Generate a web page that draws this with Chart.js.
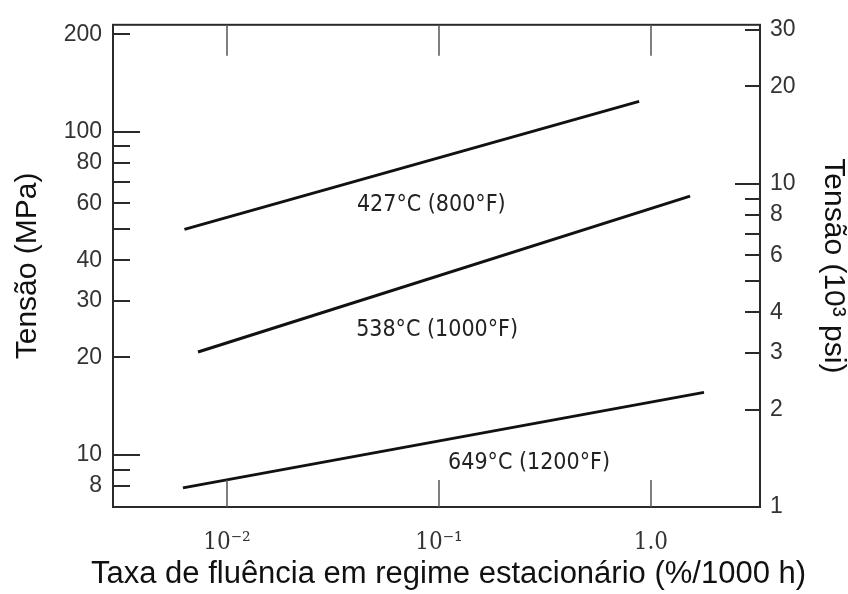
<!DOCTYPE html>
<html lang="pt">
  <head>
    <meta charset="UTF-8" />
    <title>Tensão x taxa de fluência</title>
    <script src="https://cdn.jsdelivr.net/npm/chart.js"></script>
    <style>
      body { margin: 0; background: #fff; }
    </style>
  </head>
  <body>
    <canvas id="creepChart" width="848" height="594"></canvas>

    <script>
      // taxa de fluência (%/1000 h) e tensão (MPa) nas extremidades de cada reta
      const rate427 = [0.0063, 0.88];
      const stress427 = [49.8, 124];
      const rate538 = [0.0073, 1.53];
      const stress538 = [20.8, 63.1];
      const rate649 = [0.0062, 1.78];
      const stress649 = [7.9, 15.6];

      const curveNames = ["427°C (800°F)", "538°C (1000°F)", "649°C (1200°F)"];
      // onde cada rótulo fica, em unidades dos eixos (taxa, MPa)
      const nameRate = [0.092, 0.098, 0.266];
      const nameStress = [59.3, 24.4, 9.4];

      // marcas dos eixos
      const xTicks = [0.01, 0.1, 1];
      const xTickLabels = ["10⁻²", "10⁻¹", "1.0"];
      const mpaTicks = [8, 9, 10, 20, 30, 40, 50, 60, 70, 80, 90, 100, 200];
      const mpaLabels = [8, 10, 20, 30, 40, 60, 80, 100, 200];
      const ksiTicks = [1, 2, 3, 4, 5, 6, 7, 8, 9, 10, 20, 30];
      const ksiLabels = [1, 2, 3, 4, 6, 8, 10, 20, 30];

      const xTitle = "Taxa de fluência em regime estacionário (%/1000 h)";

      const MPA_PER_KSI = 6.895;
      const mpaMin = 6.895;
      const mpaMax = 213.9;

      function toPoints(xs, ys) {
        return xs.map((x, i) => ({ x: x, y: ys[i] }));
      }

      // moldura e marcas para dentro do gráfico
      const frameAndTicks = {
        id: "frameAndTicks",
        afterDatasetsDraw(chart) {
          const { ctx, chartArea: a, scales } = chart;
          ctx.save();
          function seg(x1, y1, x2, y2) {
            ctx.beginPath();
            ctx.moveTo(x1, y1);
            ctx.lineTo(x2, y2);
            ctx.stroke();
          }
          ctx.strokeStyle = "#2a2a2a";
          ctx.lineWidth = 2;
          ctx.strokeRect(a.left, a.top, a.right - a.left, a.bottom - a.top);

          scales.y.ticks.forEach((t) => {
            const py = Math.round(scales.y.getPixelForValue(t.value));
            const len = t.value === 10 || t.value === 100 ? 27 : 17;
            seg(a.left, py, a.left + len, py);
          });
          scales.y2.ticks.forEach((t) => {
            const py = Math.round(scales.y2.getPixelForValue(t.value));
            const len = t.value === 10 ? 25 : 15;
            seg(a.right, py, a.right - len, py);
          });

          ctx.strokeStyle = "#555";
          ctx.lineWidth = 1.5;
          scales.x.ticks.forEach((t) => {
            const px = Math.round(scales.x.getPixelForValue(t.value));
            seg(px, a.bottom, px, a.bottom - 27);
            seg(px, a.top, px, a.top + 31);
          });

          // rótulos das curvas
          ctx.fillStyle = "#222";
          ctx.font = '23px "DejaVu Sans Condensed", "Liberation Sans Narrow", sans-serif';
          ctx.textAlign = "center";
          ctx.textBaseline = "middle";
          curveNames.forEach((name, i) => {
            ctx.fillText(
              name,
              scales.x.getPixelForValue(nameRate[i]),
              scales.y.getPixelForValue(nameStress[i])
            );
          });

          // título do eixo x (sem compressão à largura da área)
          ctx.fillStyle = "#111";
          ctx.font = '31px "Liberation Sans", Arial, sans-serif';
          ctx.textBaseline = "alphabetic";
          ctx.fillText(xTitle, (a.left + a.right) / 2 + 12, chart.height - 11);
          ctx.restore();
        },
      };

      const lineStyle = {
        borderColor: "#111",
        borderWidth: 3,
        pointRadius: 0,
        showLine: true,
        fill: false,
      };

      const ctx = document.getElementById("creepChart").getContext("2d");
      const chart = new Chart(ctx, {
        type: "scatter",
        data: {
          datasets: [
            { label: curveNames[0], data: toPoints(rate427, stress427), ...lineStyle },
            { label: curveNames[1], data: toPoints(rate538, stress538), ...lineStyle },
            { label: curveNames[2], data: toPoints(rate649, stress649), ...lineStyle },
          ],
        },
        options: {
          responsive: false,
          animation: false,
          layout: { padding: { top: 14, left: 0, right: 0, bottom: 0 } },
          plugins: {
            legend: { display: false },
            tooltip: { enabled: false },
          },
          scales: {
            x: {
              type: "logarithmic",
              position: "bottom",
              min: 0.0029,
              max: 3.27,
              grid: { display: false, drawTicks: false },
              border: { display: false },
              afterBuildTicks: (s) => {
                s.ticks = xTicks.map((v) => ({ value: v }));
              },
              afterFit: (s) => {
                s.height = 87;
              },
              ticks: {
                autoSkip: false,
                maxRotation: 0,
                padding: 21,
                color: "#333",
                font: { family: '"DejaVu Serif Condensed", "DejaVu Serif", serif', size: 24 },
                callback: (v) => {
                  const i = xTicks.indexOf(v);
                  return i >= 0 ? xTickLabels[i] : "";
                },
              },
              title: { display: false },
            },
            y: {
              type: "logarithmic",
              position: "left",
              min: mpaMin,
              max: mpaMax,
              grid: { display: false, drawTicks: false },
              border: { display: false },
              afterBuildTicks: (s) => {
                s.ticks = mpaTicks.map((v) => ({ value: v }));
              },
              afterFit: (s) => {
                s.width = 113;
              },
              ticks: {
                autoSkip: false,
                padding: 11,
                color: "#333",
                font: { family: '"Liberation Sans", Arial, sans-serif', size: 23 },
                callback: (v) => (mpaLabels.includes(v) ? String(v) : ""),
              },
              title: {
                display: true,
                text: "Tensão (MPa)",
                color: "#111",
                font: { family: '"Liberation Sans", Arial, sans-serif', size: 30, lineHeight: 1 },
                padding: { top: 13, bottom: 0 },
              },
            },
            y2: {
              type: "logarithmic",
              position: "right",
              min: mpaMin / MPA_PER_KSI,
              max: mpaMax / MPA_PER_KSI,
              grid: { display: false, drawTicks: false },
              border: { display: false },
              afterBuildTicks: (s) => {
                s.ticks = ksiTicks.map((v) => ({ value: v }));
              },
              afterFit: (s) => {
                s.width = 88;
              },
              ticks: {
                autoSkip: false,
                padding: 10,
                color: "#333",
                font: { family: '"Liberation Sans", Arial, sans-serif', size: 23 },
                callback: (v) => (ksiLabels.includes(v) ? String(v) : ""),
              },
              title: {
                display: true,
                text: "Tensão (10³ psi)",
                color: "#111",
                font: { family: '"Liberation Sans", Arial, sans-serif', size: 30, lineHeight: 1 },
                padding: { top: 0, bottom: 0 },
              },
            },
          },
        },
        plugins: [frameAndTicks],
      });
    </script>
  </body>
</html>
